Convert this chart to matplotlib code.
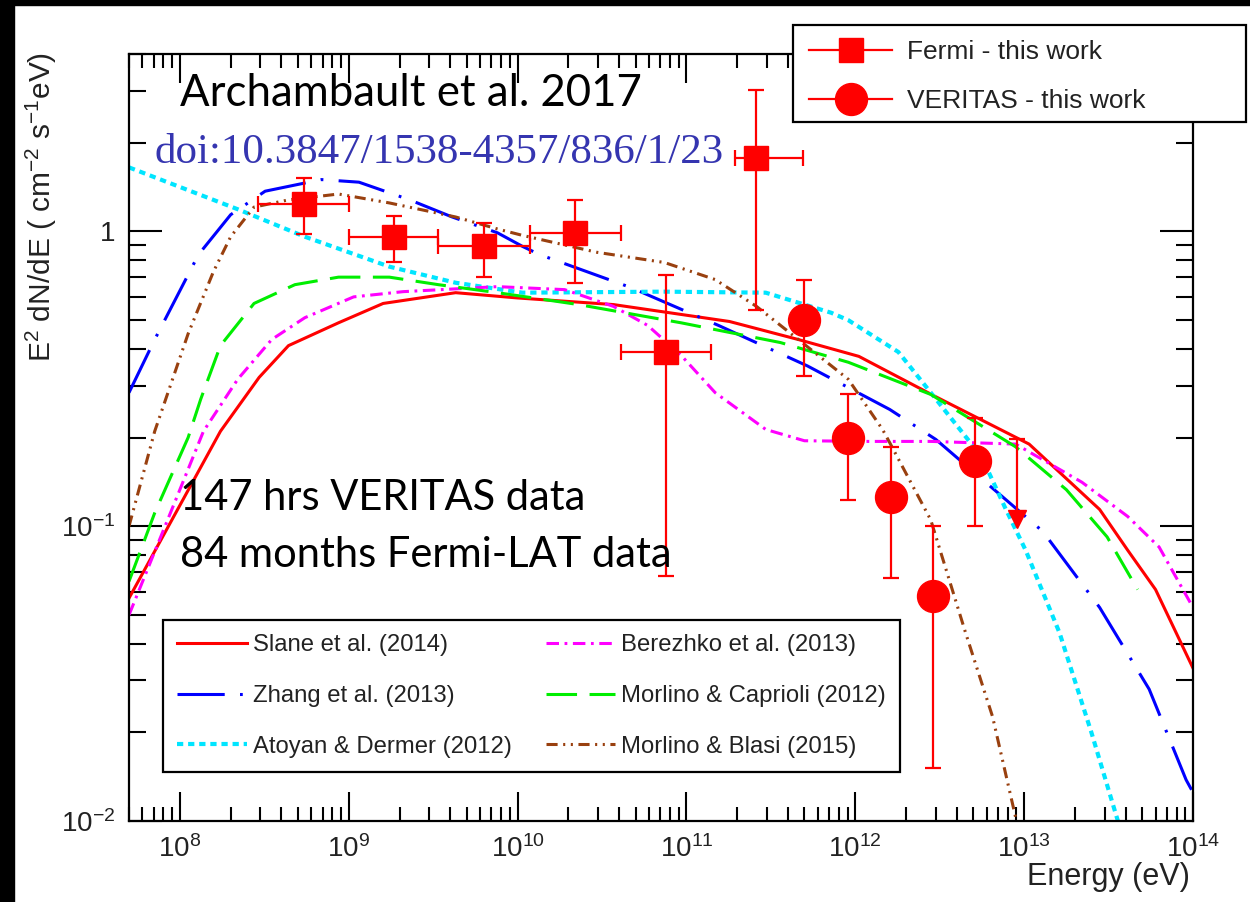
import matplotlib
matplotlib.use("Agg")
import matplotlib.pyplot as plt
from matplotlib.lines import Line2D
from matplotlib.patches import Rectangle
from matplotlib.ticker import LogLocator, FixedLocator, FixedFormatter, NullFormatter

plt.rcParams['font.family'] = ['Liberation Sans', 'DejaVu Sans']
plt.rcParams['mathtext.fontset'] = 'custom'
plt.rcParams['mathtext.rm'] = 'Liberation Sans'
plt.rcParams['mathtext.it'] = 'Liberation Sans'
plt.rcParams['lines.scale_dashes'] = False

# Fermi-LAT points (E in eV, E^2 dN/dE)
fermi_E = [5.4e8, 1.86e9, 6.3e9, 2.2e10, 7.6e10, 2.6e11]
fermi_F = [1.24, 0.96, 0.89, 0.99, 0.39, 1.78]
fermi_hi = [1.52, 1.13, 1.07, 1.28, 0.71, 3.03]
fermi_lo = [0.98, 0.785, 0.70, 0.67, 0.068, 0.54]
fermi_Elo = [2.9e8, 1.0e9, 3.4e9, 1.19e10, 4.1e10, 1.95e11]
fermi_Ehi = [1.0e9, 3.4e9, 1.19e10, 4.1e10, 1.4e11, 4.9e11]

# VERITAS points
ver_E = [5.0e11, 9.1e11, 1.62e12, 2.9e12, 5.1e12]
ver_F = [0.50, 0.20, 0.126, 0.058, 0.166]
ver_hi = [0.687, 0.28, 0.185, 0.10, 0.233]
ver_lo = [0.324, 0.123, 0.067, 0.0151, 0.10]
ul_E = 9.1e12
ul_F = 0.197
ul_tip = 0.10

# model curves
slane_E = [5e7, 1.74e8, 2.95e8, 4.4e8, 8.7e8, 1.6e9, 4.3e9, 1e10, 3.7e10, 1.8e11,
           4.6e11, 1.05e12, 3.0e12, 1.07e13, 2.8e13, 4.1e13, 6.0e13, 1e14]
slane_F = [0.057, 0.21, 0.32, 0.41, 0.49, 0.57, 0.62, 0.595, 0.565, 0.495,
           0.43, 0.377, 0.275, 0.19, 0.114, 0.083, 0.061, 0.033]

zhang_E = [5e7, 7.1e7, 1.29e8, 2e8, 3.2e8, 6.9e8, 1.15e9, 2.3e9, 4.1e9, 7.6e9, 1.07e10,
           1.35e10, 4.7e10, 1.55e11, 5.2e11, 1.6e12, 3.0e12, 1.29e13, 2.8e13, 5.5e13,
           9.1e13, 1e14]
zhang_F = [0.284, 0.43, 0.835, 1.14, 1.37, 1.50, 1.47, 1.28, 1.12, 0.99, 0.89,
           0.835, 0.645, 0.48, 0.35, 0.249, 0.197, 0.096, 0.053, 0.028,
           0.0138, 0.0125]

atoyan_E = [5e7, 2.2e8, 5.5e8, 1.74e9, 4.3e9, 1.07e10, 7.4e10, 2.95e11, 7.2e11, 9.1e11,
            1.8e12, 2.8e12, 5.6e12, 7.8e12, 1.02e13, 1.62e13, 2.5e13, 3.5e13, 3.8e13]
atoyan_F = [1.65, 1.19, 0.96, 0.76, 0.67, 0.62, 0.625, 0.62, 0.53, 0.50,
            0.39, 0.284, 0.172, 0.114, 0.083, 0.0435, 0.020, 0.0105, 0.009]

berezhko_E = [5e7, 1.0e8, 1.38e8, 2.2e8, 3.5e8, 5.5e8, 1.07e9, 2.1e9, 7.6e9, 1.9e10,
              3.7e10, 5.9e10, 9.3e10, 1.48e11, 2.95e11, 5e11, 1.2e12, 2.8e12, 8.9e12,
              2.2e13, 4.1e13, 6.3e13, 1e14]
berezhko_F = [0.050, 0.133, 0.21, 0.315, 0.43, 0.51, 0.60, 0.625, 0.65, 0.635,
              0.557, 0.48, 0.38, 0.284, 0.213, 0.195, 0.194, 0.194, 0.19,
              0.141, 0.108, 0.085, 0.053]

caprioli_E = [5e7, 7.1e7, 1.12e8, 1.33e8, 1.74e8, 2.75e8, 4.8e8, 8.7e8, 1.74e9, 3.4e9,
              7.6e9, 2.3e10, 9.3e10, 3.6e11, 9.1e11, 2.8e12, 8.9e12, 1.78e13, 3.1e13,
              4.7e13]
caprioli_F = [0.065, 0.111, 0.20, 0.27, 0.41, 0.57, 0.66, 0.70, 0.70, 0.66,
              0.62, 0.565, 0.49, 0.42, 0.36, 0.28, 0.186, 0.133, 0.092,
              0.061]

blasi_E = [5e7, 7.1e7, 1.12e8, 1.58e8, 2e8, 2.75e8, 4.4e8, 8.7e8, 1.74e9, 4.3e9,
           7.6e9, 1.07e10, 2.95e10, 7.4e10, 1.48e11, 2.6e11, 4.6e11, 9.1e11, 1.45e12,
           1.6e12, 2.8e12, 4.5e12, 6.5e12, 8.9e12, 9.8e12]
blasi_F = [0.10, 0.21, 0.45, 0.73, 0.96, 1.21, 1.28, 1.34, 1.25, 1.12,
           1.02, 0.97, 0.85, 0.785, 0.687, 0.557, 0.43, 0.315, 0.213,
           0.192, 0.105, 0.0435, 0.0226, 0.0103, 0.009]

model_labels = ["Slane et al. (2014)", "Zhang et al. (2013)", "Atoyan & Dermer (2012)",
                "Berezhko et al. (2013)", "Morlino & Caprioli (2012)", "Morlino & Blasi (2015)"]

x_ticks = [1e8, 1e9, 1e10, 1e11, 1e12, 1e13, 1e14]
x_ticklabels = [r"$10^{8}$", r"$10^{9}$", r"$10^{10}$", r"$10^{11}$", r"$10^{12}$",
                r"$10^{13}$", r"$10^{14}$"]
y_ticks = [1e-2, 1e-1, 1]
y_ticklabels = [r"$10^{-2}$", r"$10^{-1}$", "1"]

fig = plt.figure(figsize=(12.5, 9.02), dpi=100)
ax = fig.add_axes([0.1032, 0.0898, 0.8512, 0.8503])

# black slide border
fig.patches.append(Rectangle((0, 0), 14 / 1250, 1, transform=fig.transFigure,
                             color='black', zorder=-5))
fig.patches.append(Rectangle((0, 1 - 5 / 902), 1, 5 / 902, transform=fig.transFigure,
                             color='black', zorder=-5))

lw = 2.2
l1, = ax.plot(slane_E, slane_F, color='#ff0000', lw=lw, ls='-', zorder=2)
l2, = ax.plot(zhang_E, zhang_F, color='#0000ff', lw=lw, zorder=2,
              dashes=(34, 11, 2, 11))
l3, = ax.plot(atoyan_E, atoyan_F, color='#00e5ff', lw=3, zorder=2,
              dashes=(4.5, 3.5))
l4, = ax.plot(berezhko_E, berezhko_F, color='#ff00ff', lw=lw, zorder=2,
              dashes=(9, 4, 2, 4))
l5, = ax.plot(caprioli_E, caprioli_F, color='#00ee00', lw=lw, zorder=2,
              dashes=(22, 9))
l6, = ax.plot(blasi_E, blasi_F, color='#99400f', lw=lw, zorder=2,
              dashes=(8, 4, 1.5, 4, 1.5, 4))

# Fermi squares
fermi_yerr = [[f - lo for f, lo in zip(fermi_F, fermi_lo)],
              [hi - f for f, hi in zip(fermi_F, fermi_hi)]]
fermi_xerr = [[e - lo for e, lo in zip(fermi_E, fermi_Elo)],
              [hi - e for e, hi in zip(fermi_E, fermi_Ehi)]]
ax.errorbar(fermi_E, fermi_F, yerr=fermi_yerr, xerr=fermi_xerr, fmt='s',
            color='#ff0000', ms=17.5, elinewidth=1.6, capsize=6, capthick=1.6, zorder=4)

ver_yerr = [[f - lo for f, lo in zip(ver_F, ver_lo)],
            [hi - f for f, hi in zip(ver_F, ver_hi)]]
ax.errorbar(ver_E, ver_F, yerr=ver_yerr, fmt='o', color='#ff0000', ms=23,
            elinewidth=1.6, capsize=6, capthick=1.6, zorder=4)

# VERITAS upper limit
ax.plot([ul_E, ul_E], [ul_F, ul_tip], color='#ff0000', lw=1.6, zorder=4)
ax.plot([ul_E], [ul_F], marker='_', color='#ff0000', ms=12, mew=1.6, zorder=4)
ax.plot([ul_E], [ul_tip * 1.06], marker='v', color='#ff0000', ms=13, zorder=4)

ax.set_xscale('log')
ax.set_yscale('log')
ax.set_xlim(5e7, 1e14)
ax.set_ylim(1e-2, 4.0)

ax.xaxis.set_major_locator(FixedLocator(x_ticks))
ax.xaxis.set_major_formatter(FixedFormatter(x_ticklabels))
ax.xaxis.set_minor_locator(LogLocator(base=10, subs=range(2, 10), numticks=40))
ax.xaxis.set_minor_formatter(NullFormatter())
ax.yaxis.set_major_locator(FixedLocator(y_ticks))
ax.yaxis.set_major_formatter(FixedFormatter(y_ticklabels))
ax.yaxis.set_minor_locator(LogLocator(base=10, subs=range(2, 10), numticks=40))
ax.yaxis.set_minor_formatter(NullFormatter())

ax.tick_params(which='both', direction='in', top=True, right=True, width=1.5,
               colors='black', labelcolor='#222222', labelsize=20)
ax.tick_params(axis='y', which='major', length=24, pad=10)
ax.tick_params(axis='y', which='minor', length=12)
ax.tick_params(axis='x', which='major', length=21, pad=10)
ax.tick_params(axis='x', which='minor', length=10)
for s in ax.spines.values():
    s.set_linewidth(1.6)

fig.text(0.033, 0.942, r"E$^{2}$ dN/dE ( cm$^{-2}$ s$^{-1}$eV)", rotation=90,
         ha='center', va='top', fontsize=21.5, color='#222222')
fig.text(0.952, 0.019, "Energy (eV)", ha='right', va='baseline', fontsize=22,
         color='#222222')

# model legend
leg2 = ax.legend([l1, l2, l3, l4, l5, l6], model_labels, ncol=2, loc='lower left',
                 bbox_to_anchor=(0.032, 0.064), borderaxespad=0, fontsize=17.2,
                 handlelength=2.9, handletextpad=0.25, columnspacing=1.45,
                 labelspacing=1.2, borderpad=0.6, fancybox=False,
                 edgecolor='black', framealpha=1)
leg2.get_frame().set_linewidth(1.6)
for t in leg2.get_texts():
    t.set_color('#222222')

# data legend, outside the frame at the top right: box drawn separately
fig.patches.append(Rectangle((793 / 1250, 1 - 122 / 902), 453 / 1250, 97 / 902,
                             transform=fig.transFigure, facecolor='white',
                             edgecolor='black', lw=1.6, zorder=9))
h_fermi = Line2D([], [], color='#ff0000', lw=1.6, marker='s', ms=17.5)
h_ver = Line2D([], [], color='#ff0000', lw=1.6, marker='o', ms=23)
leg1 = fig.legend([h_fermi, h_ver], ["Fermi - this work", "VERITAS - this work"],
                  loc='upper left', bbox_to_anchor=(809 / 1250, 1 - 40 / 902),
                  fontsize=19, handlelength=3.15, handletextpad=0.57,
                  labelspacing=0.95, borderpad=0, borderaxespad=0, frameon=False)
leg1.set_zorder(10)
for t in leg1.get_texts():
    t.set_color('#222222')

# slide annotations
fig.text(0.144, 0.8825, "Archambault et al. 2017", fontsize=31.5,
         family=['Lato', 'DejaVu Sans'], color='black', va='baseline')
fig.text(0.124, 0.819, "doi:10.3847/1538-4357/836/1/23", fontsize=31,
         family=['Liberation Serif', 'DejaVu Serif'], color='#3535b0', va='baseline')
fig.text(0.144, 0.4346, "147 hrs VERITAS data", fontsize=30,
         family=['Lato', 'DejaVu Sans'], color='black', va='baseline')
fig.text(0.144, 0.3714, "84 months Fermi-LAT data", fontsize=30,
         family=['Lato', 'DejaVu Sans'], color='black', va='baseline')

fig.savefig("out.png", dpi=100)
